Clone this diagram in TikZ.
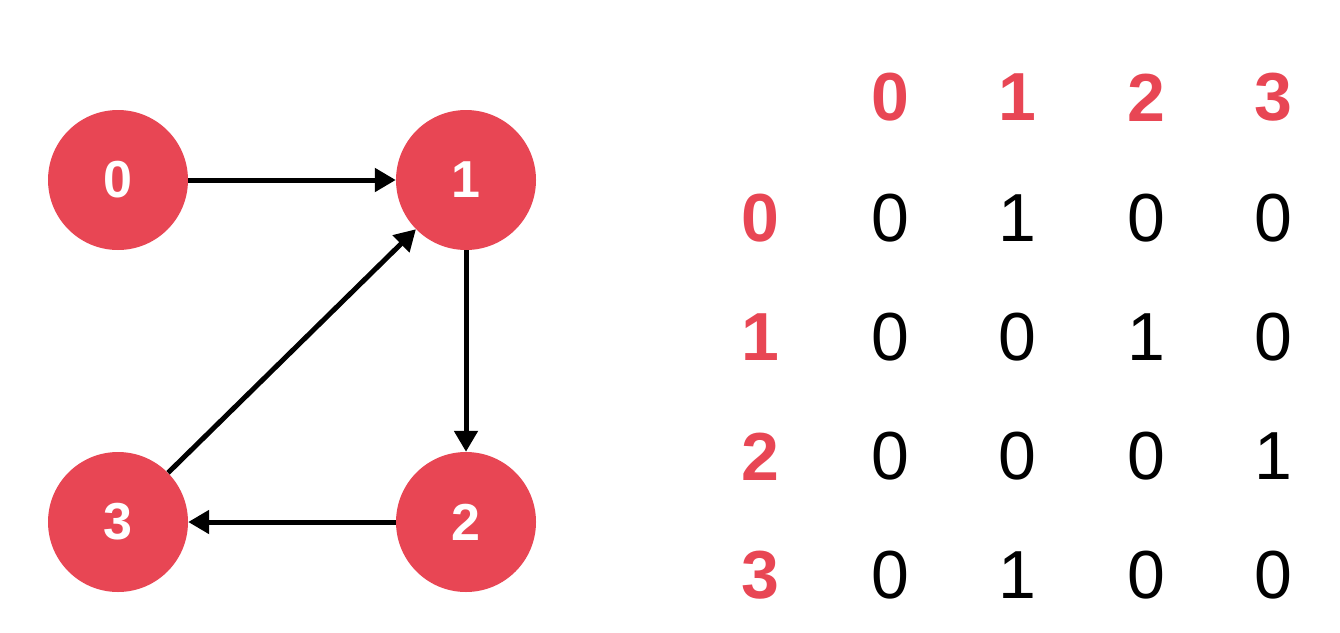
\documentclass[tikz,border=0pt]{standalone}
\usepackage{fontspec}
\setmainfont{Liberation Sans}
\usetikzlibrary{arrows.meta}
\definecolor{nodered}{RGB}{232,70,84}
\tikzset{
  vertex/.style={circle, fill=nodered, minimum size=140pt, inner sep=0pt, text=white, font=\fontsize{52}{52}\selectfont\bfseries},
  edge/.style={line width=5pt, -{Triangle[length=21pt,width=23pt]}},
  head/.style={inner sep=0pt, text=nodered, font=\fontsize{68}{68}\selectfont\bfseries},
  cell/.style={inner sep=0pt, text=black, font=\fontsize{68}{68}\selectfont},
}
\begin{document}
\begin{tikzpicture}[x=1pt,y=-1pt]
\useasboundingbox (0,0) rectangle (1340,632);
% graph
\node[vertex] (n0) at (118,180) {0};
\node[vertex] (n1) at (466,180) {1};
\node[vertex] (n2) at (466,522) {2};
\node[vertex] (n3) at (118,522) {3};
\draw[edge] (n0) -- (n1);
\draw[edge] (n1) -- (n2);
\draw[edge] (n2) -- (n3);
\draw[edge] (n3) -- (n1);
% matrix header
\node[head] (c0) at (890,97.5) {0};
\node[head] (c1) at (1017,97.5) {1};
\node[head] (c2) at (1146,97.5) {2};
\node[head] (c3) at (1273,97.5) {3};
\node[head] (r0) at (760,218.5) {0};
\node[head] (r1) at (760,337.5) {1};
\node[head] (r2) at (760,456.5) {2};
\node[head] (r3) at (760,575.5) {3};
% cells
\node[cell] (m00) at (890,218.5) {0};
\node[cell] (m01) at (1017,218.5) {1};
\node[cell] (m02) at (1146,218.5) {0};
\node[cell] (m03) at (1273,218.5) {0};
\node[cell] (m10) at (890,337.5) {0};
\node[cell] (m11) at (1017,337.5) {0};
\node[cell] (m12) at (1146,337.5) {1};
\node[cell] (m13) at (1273,337.5) {0};
\node[cell] (m20) at (890,456.5) {0};
\node[cell] (m21) at (1017,456.5) {0};
\node[cell] (m22) at (1146,456.5) {0};
\node[cell] (m23) at (1273,456.5) {1};
\node[cell] (m30) at (890,575.5) {0};
\node[cell] (m31) at (1017,575.5) {1};
\node[cell] (m32) at (1146,575.5) {0};
\node[cell] (m33) at (1273,575.5) {0};
\end{tikzpicture}
\end{document}
